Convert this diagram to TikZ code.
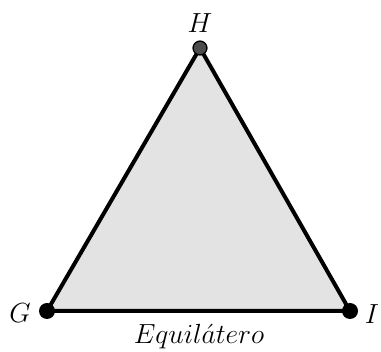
\documentclass[tikz,border=0pt]{standalone}
\begin{document}
\begin{tikzpicture}[x=0.75pt, y=0.75pt, line join=round, line cap=round]
			\useasboundingbox (0,0) rectangle (381,352);
			\path
			(47,41)coordinate(G)
			(350,41)coordinate(I)
			(200,304)coordinate(H)
			;
			\draw[line width=3pt, fill=black!11] (G)--(I)--(H)--cycle;
			\fill (G) circle (6pt);
			\fill (I) circle (6pt);
			\draw[line width=1pt, fill=black!70] (H) circle (5.2pt);
			\node[font=\fontsize{21}{25}\selectfont] (lH) at (200,329) {$H$};
			\node[font=\fontsize{21}{25}\selectfont] (lG) at (20,39) {$G$};
			\node[font=\fontsize{21}{25}\selectfont] (lI) at (372,38) {$I$};
			\node[font=\fontsize{21}{25}\selectfont] (name) at (199,15) {$Equil\acute{a}tero$};
	\end{tikzpicture}
\end{document}
